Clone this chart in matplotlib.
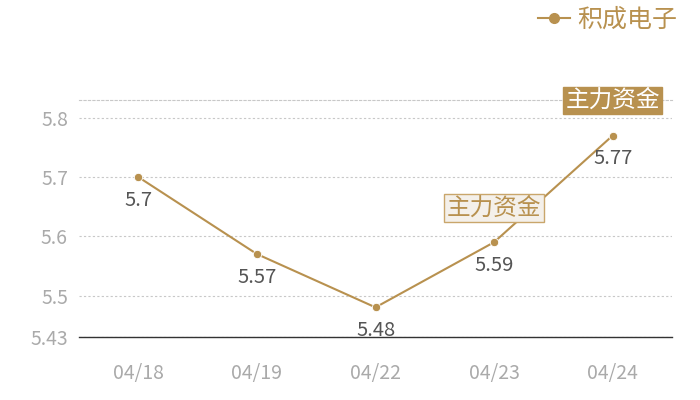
import matplotlib
matplotlib.use('Agg')
import matplotlib.pyplot as plt
from matplotlib.lines import Line2D

plt.rcParams['font.family'] = ['Noto Sans CJK SC', 'DejaVu Sans']

dates = ['04/18', '04/19', '04/22', '04/23', '04/24']
prices = [5.70, 5.57, 5.48, 5.59, 5.77]
price_labels = ['5.7', '5.57', '5.48', '5.59', '5.77']
series_name = '积成电子'
y_ticks = [5.43, 5.5, 5.6, 5.7, 5.8]
y_top = 5.83
flag_text = '主力资金'
flag_light_idx = 3
flag_dark_idx = 4

line_color = '#b8914f'
tick_color = '#aaaaaa'
label_color = '#555555'

fig = plt.figure(figsize=(7, 4), dpi=100)
ax = fig.add_axes([79 / 700, 1 - 337 / 400, (672 - 79) / 700, (337 - 100) / 400])

x = list(range(len(dates)))
ax.plot(x, prices, color=line_color, linewidth=1.5, marker='o', markersize=6,
        markeredgecolor='white', markeredgewidth=0.6, zorder=3)

for i, (v, lab) in enumerate(zip(prices, price_labels)):
    ax.annotate(lab, (i, v), xytext=(0, -23), textcoords='offset pixels',
                ha='center', va='center', fontsize=14.5, color=label_color, zorder=4)

# flags above the last two points
ax.annotate(flag_text, (flag_light_idx, prices[flag_light_idx]), xytext=(0, 34),
            textcoords='offset pixels', ha='center', va='center', fontsize=17,
            color=line_color, zorder=5,
            bbox=dict(boxstyle='square,pad=0.1', facecolor='#f4f0ea',
                      edgecolor='#c9a66b', linewidth=1))
ax.annotate(flag_text, (flag_dark_idx, prices[flag_dark_idx]), xytext=(0, 35),
            textcoords='offset pixels', ha='center', va='center', fontsize=17,
            color='white', zorder=5,
            bbox=dict(boxstyle='square,pad=0.1', facecolor=line_color,
                      edgecolor=line_color, linewidth=1))

ax.set_xlim(-0.5, len(dates) - 0.5)
ax.set_ylim(y_ticks[0], y_top)
ax.set_xticks(x)
ax.set_xticklabels(dates)
ax.set_yticks(y_ticks)
ax.set_yticklabels([str(t) for t in y_ticks])
ax.tick_params(axis='both', length=0, labelsize=14, labelcolor=tick_color)
ax.tick_params(axis='x', pad=19)
ax.tick_params(axis='y', pad=8)

ax.grid(axis='y', linestyle=(0, (2, 2)), color='#c8c8c8', linewidth=0.8)
ax.set_axisbelow(True)
for s in ['left', 'right']:
    ax.spines[s].set_visible(False)
ax.spines['top'].set_linestyle((0, (2, 2)))
ax.spines['top'].set_color('#c8c8c8')
ax.spines['top'].set_linewidth(0.8)
ax.spines['bottom'].set_color('#333333')
ax.spines['bottom'].set_linewidth(1)

handle = Line2D([], [], color=line_color, linewidth=1.5, marker='o', markersize=7)
fig.legend([handle], [series_name], loc='upper right', bbox_to_anchor=(1.0, 1.04),
           frameon=False, fontsize=18, labelcolor=line_color, handlelength=1.3,
           handletextpad=0.3)

fig.savefig('out.png', dpi=100)
